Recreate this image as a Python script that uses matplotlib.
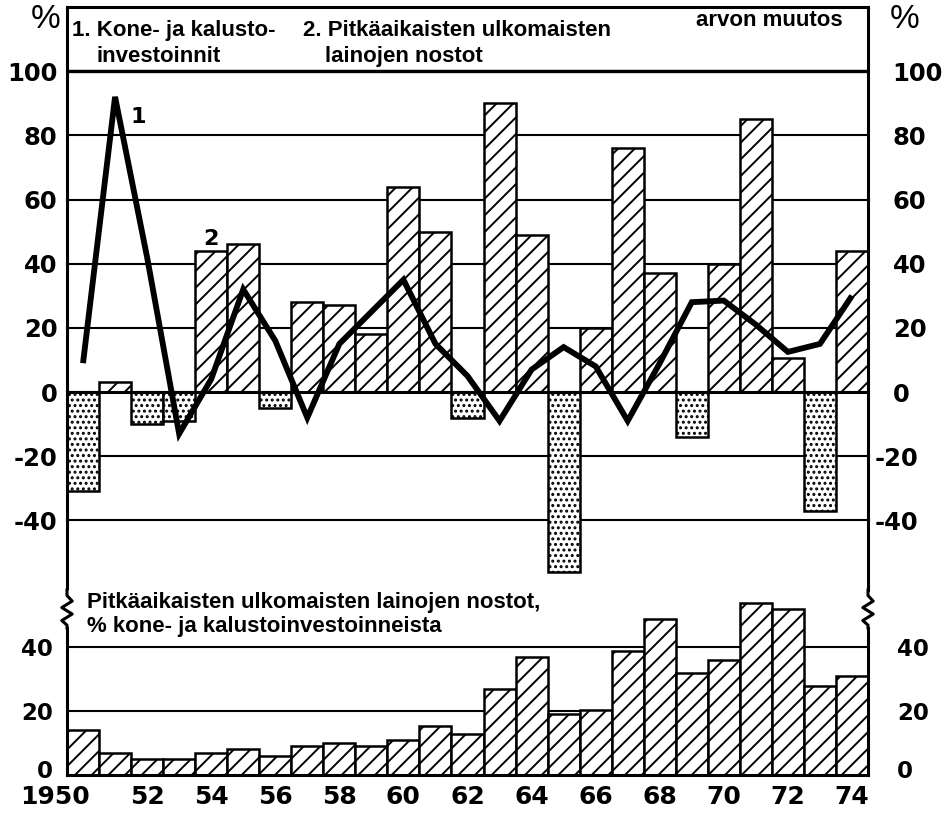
import numpy as np
import matplotlib
matplotlib.use("Agg")
import matplotlib.pyplot as plt
from matplotlib.transforms import ScaledTranslation

# --- Data ---
years = np.arange(1950, 1975)

# 1. Kone- ja kalustoinvestoinnit, arvon muutos (%)
investment_change = [9, 92, 42, -13, 4, 32, 16, -8, 15, 25, 35, 15, 5, -9,
                     7, 14, 8, -9, 9, 28, 28.5, 21, 12.5, 15, 30]

# 2. Pitkäaikaisten ulkomaisten lainojen nostot, arvon muutos (%)
loans_change = [-31, 3, -10, -9, 44, 46, -5, 28, 27, 18, 64, 50, -8, 90,
                49, -56, 20, 76, 37, -14, 40, 85, 10.5, -37, 44]

# Lainojen nostot, % kone- ja kalustoinvestoinneista
loans_share = [14, 7, 5, 5, 7, 8, 6, 9, 10, 9, 11, 15.5, 13, 27, 37, 19,
               20.5, 39, 49, 32, 36, 54, 52, 28, 31]

top_ticks = [-40, -20, 0, 20, 40, 60, 80, 100]
bottom_ticks = [0, 20, 40]
year_ticks = years[::2]
year_labels = ["1950"] + [str(y)[2:] for y in year_ticks[1:]]

# --- Style ---
plt.rcParams['font.family'] = ['DejaVu Sans']
plt.rcParams['font.weight'] = 'bold'
plt.rcParams['hatch.linewidth'] = 1.4
TXT = ['Liberation Sans', 'DejaVu Sans']
W, H = 951, 814


def fx(px):
    return px / W


def fy(py):
    return 1 - py / H


def shift(text, dx_px, dy_px):
    # move a tick label by a few pixels
    text.set_transform(text.get_transform() +
                       ScaledTranslation(dx_px / 100, dy_px / 100, fig.dpi_scale_trans))


fig = plt.figure(figsize=(9.51, 8.14), dpi=100)
ax_top = fig.add_axes([fx(67), fy(590), fx(868) - fx(67), (590 - 7) / H])
ax_bot = fig.add_axes([fx(67), fy(775), fx(868) - fx(67), (775 - 590) / H])

# --- Upper panel ---
vals = np.array(loans_change)
pos = vals >= 0
ax_top.bar(years[pos], vals[pos], width=1.0, facecolor='white',
           edgecolor='black', hatch='//', linewidth=1.8, zorder=2)
ax_top.bar(years[~pos], vals[~pos], width=1.0, facecolor='white',
           edgecolor='black', hatch='...', linewidth=1.8, zorder=2)
ax_top.plot(years, investment_change, color='black', lw=4.2,
            solid_joinstyle='miter', solid_capstyle='butt', zorder=4)

ax_top.set_yticks(top_ticks, [str(t) for t in top_ticks])
ax_top.set_axisbelow(True)
ax_top.grid(axis='y', color='black', lw=1.5)
ax_top.axhline(0, color='black', lw=2.2, zorder=3)
ax_top.axhline(100, color='black', lw=2.4, zorder=3)
ax_top.set_xticks([])
ax_top.set_xlim(1949.5, 1974.5)
ax_top.set_ylim(-61.7, 120)
ax_top.spines['bottom'].set_visible(False)
ax_top.tick_params(axis='y', length=0, labelsize=17.5, pad=7,
                   labelright=True)
for t in ax_top.yaxis.get_major_ticks():
    t.label2.set_horizontalalignment('left')
    shift(t.label2, 15 if t.get_loc() >= 0 else -3, 0)

ax_top.text(1951.47, 83.8, "1", fontsize=16, va='baseline', ha='left')
ax_top.text(1953.74, 45.8, "2", fontsize=16, va='baseline', ha='left')

# --- Lower panel ---
ax_bot.bar(years, loans_share, width=1.0, facecolor='white',
           edgecolor='black', hatch='//', linewidth=1.8, zorder=2)
ax_bot.set_yticks(bottom_ticks, [str(t) for t in bottom_ticks])
ax_bot.set_axisbelow(True)
ax_bot.grid(axis='y', color='black', lw=1.5)
ax_bot.set_xticks(year_ticks, year_labels)
ax_bot.set_xlim(1949.5, 1974.5)
ax_bot.set_ylim(0, 58)
ax_bot.spines['top'].set_visible(False)
ax_bot.tick_params(axis='y', length=0, labelsize=16.5, pad=10,
                   labelright=True)
ax_bot.tick_params(axis='x', length=0, labelsize=18, pad=7)
for t in ax_bot.yaxis.get_major_ticks():
    up = 6 if t.get_loc() == 0 else 0
    shift(t.label1, 0, up)
    shift(t.label2, 15, up)
shift(ax_bot.xaxis.get_major_ticks()[0].label1, -28, 0)

for ax in (ax_top, ax_bot):
    for s in ax.spines.values():
        s.set_linewidth(2.2)

# break marks on the vertical axes
ax_bot.spines['left'].set_bounds(0, 58 * 0.795)
ax_bot.spines['right'].set_bounds(0, 58 * 0.795)
zz_dx = np.array([0, 0, 1, -1, 1, -1, 0, 0]) * 0.0065
zz_y = np.array([1.0, 0.97, 0.94, 0.905, 0.87, 0.835, 0.81, 0.795])
for x0 in (0, 1):
    ax_bot.plot(x0 + zz_dx, zz_y, transform=ax_bot.transAxes, color='black',
                lw=2.2, clip_on=False, zorder=5)

# --- Texts ---
hdr = dict(family=TXT, fontsize=16, fontweight='bold', va='baseline')
fig.text(fx(72), fy(36), "1. Kone- ja kalusto-", ha='left', **hdr)
fig.text(fx(97), fy(62), "investoinnit", ha='left', **hdr)
fig.text(fx(303), fy(36), "2. Pitkäaikaisten ulkomaisten", ha='left', **hdr)
fig.text(fx(325), fy(62), "lainojen nostot", ha='left', **hdr)
fig.text(fx(843), fy(26), "arvon muutos", ha='right', **hdr)
fig.text(fx(87), fy(608), "Pitkäaikaisten ulkomaisten lainojen nostot,",
         ha='left', **hdr)
fig.text(fx(87), fy(632), "% kone- ja kalustoinvestoinneista", ha='left', **hdr)

pct = dict(family=TXT, fontsize=24, fontweight='normal', va='baseline')
fig.text(fx(31), fy(28), "%", ha='left', **pct)
fig.text(fx(890), fy(28), "%", ha='left', **pct)

fig.savefig("out.png", dpi=100)
